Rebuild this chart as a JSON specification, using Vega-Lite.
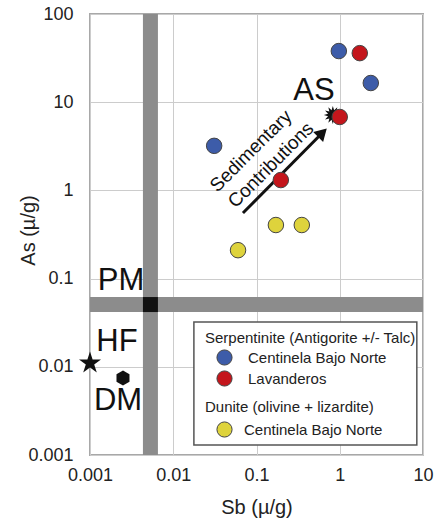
{
  "$schema": "https://vega.github.io/schema/vega-lite/v6.json",
  "autosize": {"type": "none"},
  "padding": {"left": 90, "top": 14, "right": 14, "bottom": 67},
  "width": 333,
  "height": 441,
  "background": "white",
  "config": {
    "view": {"stroke": "#a8a8a8", "strokeWidth": 2},
    "font": "Liberation Sans",
    "axis": {
      "labelFont": "Liberation Sans", "labelFontSize": 18, "labelColor": "#222",
      "titleFont": "Liberation Sans", "titleFontSize": 20, "titleFontWeight": "normal", "titleColor": "#222",
      "gridColor": "#cccccc", "gridWidth": 1, "domain": false, "ticks": false,
      "labelOverlap": false, "labelFlush": false
    }
  },
  "datasets": {
    "samples": [
      {"rock": "Serpentinite", "locality": "Centinela Bajo Norte", "sb": 0.975, "as": 38},
      {"rock": "Serpentinite", "locality": "Centinela Bajo Norte", "sb": 2.36, "as": 16.5},
      {"rock": "Serpentinite", "locality": "Centinela Bajo Norte", "sb": 0.031, "as": 3.2},
      {"rock": "Serpentinite", "locality": "Lavanderos", "sb": 1.74, "as": 36},
      {"rock": "Serpentinite", "locality": "Lavanderos", "sb": 1.0, "as": 6.8},
      {"rock": "Serpentinite", "locality": "Lavanderos", "sb": 0.196, "as": 1.31},
      {"rock": "Dunite", "locality": "Centinela Bajo Norte", "sb": 0.171, "as": 0.405},
      {"rock": "Dunite", "locality": "Centinela Bajo Norte", "sb": 0.35, "as": 0.405},
      {"rock": "Dunite", "locality": "Centinela Bajo Norte", "sb": 0.06, "as": 0.21}
    ],
    "vbar": [{"sb": 0.00532, "as": 0.001, "as2": 100}],
    "hbar": [{"sb": 0.001, "sb2": 10, "as": 0.0508}],
    "pm": [{"sb": 0.00532, "as": 0.0508}],
    "hf": [{"sb": 0.001, "as": 0.011}],
    "dm": [{"sb": 0.00249, "as": 0.00746}],
    "asref": [{"sb": 0.826, "as": 7.16}],
    "arrow": [{"sb": 0.0687, "as": 0.555, "o": 1}, {"sb": 0.62, "as": 4.5, "o": 2}],
    "arrowhead": [{"sb": 0.62, "as": 4.5}],
    "box": [{"sb": 0.0177, "sb2": 8.43, "as": 0.0013, "as2": 0.0322}],
    "labels": [
      {"label": "AS", "sb": 0.489, "as": 13.4},
      {"label": "PM", "sb": 0.00236, "as": 0.094},
      {"label": "HF", "sb": 0.00211, "as": 0.0191},
      {"label": "DM", "sb": 0.00217, "as": 0.00409}
    ],
    "arrowtext": [
      {"label": "Sedimentary", "sb": 0.0857, "as": 2.8},
      {"label": "Contributions", "sb": 0.149, "as": 1.94}
    ]
  },
  "encoding": {
    "x": {
      "field": "sb", "type": "quantitative",
      "scale": {"type": "log", "domain": [0.001, 10]},
      "axis": {"title": "Sb (µ/g)", "values": [0.001, 0.01, 0.1, 1, 10], "format": "~g", "labelPadding": 11, "titleY": 52, "titleBaseline": "middle"}
    },
    "y": {
      "field": "as", "type": "quantitative",
      "scale": {"type": "log", "domain": [0.001, 100]},
      "axis": {"title": "As (µ/g)", "values": [0.001, 0.01, 0.1, 1, 10, 100], "format": "~g", "labelPadding": 17, "titleX": -62, "titleY": 216, "titleBaseline": "middle"}
    }
  },
  "layer": [
    {
      "data": {"name": "box"},
      "mark": {"type": "rect", "fill": "white", "stroke": "#555555", "strokeWidth": 1.5},
      "encoding": {"x2": {"field": "sb2"}, "y2": {"field": "as2"}}
    },
    {
      "data": {"name": "vbar"},
      "mark": {"type": "rule", "color": "#8c8c8c", "strokeWidth": 15},
      "encoding": {"y2": {"field": "as2"}}
    },
    {
      "data": {"name": "hbar"},
      "mark": {"type": "rule", "color": "#8c8c8c", "strokeWidth": 15},
      "encoding": {"x2": {"field": "sb2"}}
    },
    {
      "data": {"name": "pm"},
      "mark": {"type": "point", "shape": "square", "filled": true, "color": "#111111", "size": 225, "opacity": 1}
    },
    {
      "data": {"name": "arrow"},
      "mark": {"type": "line", "color": "#111111", "strokeWidth": 3},
      "encoding": {"order": {"field": "o"}}
    },
    {
      "data": {"name": "arrowhead"},
      "mark": {"type": "point", "shape": "triangle-up", "angle": 45, "filled": true, "color": "#111111", "size": 196, "opacity": 1}
    },
    {
      "data": {"name": "asref"},
      "mark": {"type": "point", "filled": true, "color": "#111111", "opacity": 1, "size": 324,
        "shape": "M0,-1L0.142,-0.531L0.5,-0.866L0.389,-0.389L0.866,-0.5L0.531,-0.142L1,0L0.531,0.142L0.866,0.5L0.389,0.389L0.5,0.866L0.142,0.531L0,1L-0.142,0.531L-0.5,0.866L-0.389,0.389L-0.866,0.5L-0.531,0.142L-1,0L-0.531,-0.142L-0.866,-0.5L-0.389,-0.389L-0.5,-0.866L-0.142,-0.531Z"}
    },
    {
      "data": {"name": "hf"},
      "mark": {"type": "point", "filled": true, "color": "#111111", "opacity": 1, "size": 535,
        "shape": "M0,-1L0.2245,-0.309L0.951,-0.309L0.363,0.118L0.588,0.809L0,0.382L-0.588,0.809L-0.363,0.118L-0.951,-0.309L-0.2245,-0.309Z"}
    },
    {
      "data": {"name": "dm"},
      "mark": {"type": "point", "filled": true, "color": "#111111", "opacity": 1, "size": 225,
        "shape": "M0,-1L0.866,-0.5L0.866,0.5L0,1L-0.866,0.5L-0.866,-0.5Z"}
    },
    {
      "data": {"name": "samples"},
      "transform": [{"filter": "datum.rock === 'Serpentinite'"}],
      "mark": {"type": "circle", "size": 240, "opacity": 1, "stroke": "#444444", "strokeWidth": 1},
      "encoding": {
        "color": {
          "field": "locality", "type": "nominal",
          "scale": {"domain": ["Centinela Bajo Norte", "Lavanderos"], "range": ["#3d5ca9", "#c4161c"]},
          "legend": {
            "title": "Serpentinite (Antigorite +/- Talc)", "orient": "none", "legendX": 115, "legendY": 317,
            "padding": 0, "titleFont": "Liberation Sans", "titleFontSize": 15, "titleFontWeight": "normal", "titleColor": "#222",
            "titlePadding": 3, "titleLimit": 400, "labelLimit": 400,
            "labelFont": "Liberation Sans", "labelFontSize": 15, "labelColor": "#222", "labelOffset": 15,
            "symbolType": "circle", "symbolSize": 230, "symbolOffset": 11, "symbolStrokeColor": "#444444", "symbolStrokeWidth": 1,
            "symbolOpacity": 1, "rowPadding": 0
          }
        }
      }
    },
    {
      "data": {"name": "samples"},
      "transform": [{"filter": "datum.rock === 'Dunite'"}],
      "mark": {"type": "circle", "size": 240, "opacity": 1, "stroke": "#444444", "strokeWidth": 1},
      "encoding": {
        "color": {
          "field": "locality", "type": "nominal",
          "scale": {"domain": ["Centinela Bajo Norte"], "range": ["#ded33c"]},
          "legend": {
            "title": "Dunite (olivine + lizardite)", "orient": "none", "legendX": 115, "legendY": 386,
            "padding": 0, "titleFont": "Liberation Sans", "titleFontSize": 15, "titleFontWeight": "normal", "titleColor": "#222",
            "titlePadding": 6, "titleLimit": 400, "labelLimit": 400,
            "labelFont": "Liberation Sans", "labelFontSize": 15, "labelColor": "#222", "labelOffset": 11,
            "symbolType": "circle", "symbolSize": 230, "symbolOffset": 11, "symbolStrokeColor": "#444444", "symbolStrokeWidth": 1,
            "symbolOpacity": 1
          }
        }
      }
    },
    {
      "data": {"name": "labels"},
      "mark": {"type": "text", "font": "Liberation Sans", "fontSize": 31, "color": "#111111", "align": "center", "baseline": "middle"},
      "encoding": {"text": {"field": "label"}}
    },
    {
      "data": {"name": "arrowtext"},
      "mark": {"type": "text", "font": "Liberation Sans", "fontSize": 19, "color": "#111111", "align": "center", "baseline": "middle", "angle": -45},
      "encoding": {"text": {"field": "label"}}
    }
  ],
  "resolve": {"scale": {"color": "independent"}}
}
